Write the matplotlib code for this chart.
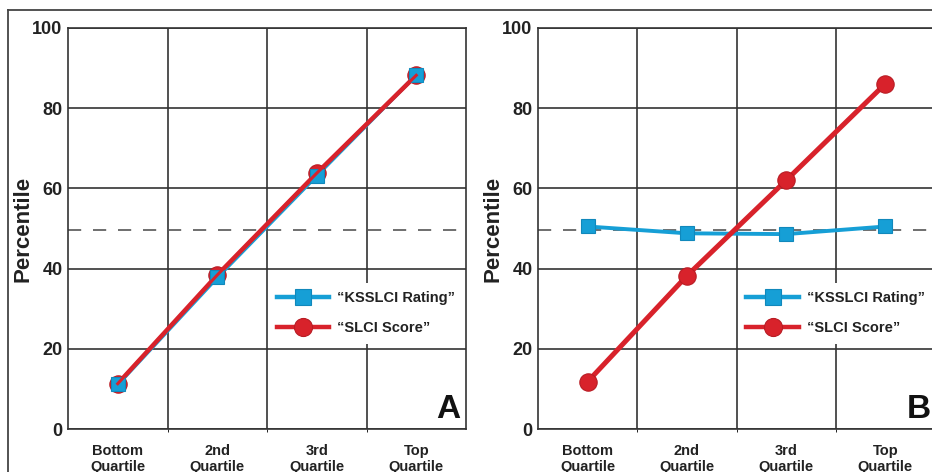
import matplotlib
matplotlib.use('Agg')
import matplotlib.pyplot as plt
from matplotlib.lines import Line2D

plt.rcParams['font.family'] = ['Liberation Sans', 'DejaVu Sans']
plt.rcParams['font.weight'] = 'bold'
plt.rcParams['lines.scale_dashes'] = False

# data
quartiles = ['Bottom\nQuartile', '2nd\nQuartile', '3rd\nQuartile', 'Top\nQuartile']
y_ticks = [0, 20, 40, 60, 80, 100]
median_line = 49.6

rating_a = [11.1, 37.8, 63.2, 88.3]
score_a = [11.3, 38.4, 63.8, 88.2]
rating_b = [50.5, 48.8, 48.6, 50.5]
score_b = [11.8, 38.2, 62.0, 86.1]

labels = ['\u201cKSSLCI Rating\u201d', '\u201cSLCI Score\u201d']
panel_letters = ['A', 'B']

blue = '#169fd6'
red = '#d8222b'
grid_col = '#333333'

fig = plt.figure(figsize=(9.32, 4.72), dpi=100)

# outer frame lines (top and left)
fig.add_artist(Line2D([8 / 932, 1.0], [1 - 10 / 472, 1 - 10 / 472], color='#444444', lw=1.3))
fig.add_artist(Line2D([8 / 932, 8 / 932], [0, 1 - 10 / 472], color='#444444', lw=1.3))

positions = [[68 / 932, 43 / 472, 398 / 932, 401 / 472],
             [538 / 932, 43 / 472, 397 / 932, 401 / 472]]
data = [(rating_a, score_a), (rating_b, score_b)]

for k, ax_pos in enumerate(positions):
    ax = fig.add_axes(ax_pos)
    rating, score = data[k]
    x = list(range(len(quartiles)))

    ax.set_xlim(-0.5, 3.5)
    ax.set_ylim(0, 100)
    ax.set_yticks(y_ticks)
    ax.set_xticks(x)
    ax.set_xticklabels(quartiles, fontsize=10.5, fontweight='bold', color='#222222',
                       linespacing=1.2)
    ax.set_yticklabels([str(v) for v in y_ticks], fontsize=13, fontweight='bold', color='#222222')
    ax.tick_params(axis='both', length=0)
    ax.tick_params(axis='x', pad=11)
    ax.tick_params(axis='y', pad=4)
    ax.set_xticks([0.5, 1.5, 2.5], minor=True)
    ax.grid(True, which='minor', axis='x', color=grid_col, lw=1.2)
    ax.grid(True, which='major', axis='y', color=grid_col, lw=1.2)
    ax.set_axisbelow(True)
    for s in ax.spines.values():
        s.set_color(grid_col)
        s.set_linewidth(1.2)

    ax.set_ylabel('Percentile', fontsize=16, fontweight='bold', color='#222222', labelpad=-1)

    ax.axhline(median_line, color='#555555', lw=1.2, dashes=(9.5, 8.5), zorder=2)

    ax.plot(x, rating, color=blue, lw=2.8, zorder=3, solid_capstyle='round')
    ax.plot(x, score, color=red, lw=3.2 if k == 0 else 3.6, marker='o', markersize=12.5,
            markerfacecolor=red, markeredgecolor='#b81c24', markeredgewidth=0.8, zorder=4)
    ax.plot(x, rating, color=blue, lw=0, marker='s', markersize=10.5,
            markerfacecolor=blue, markeredgecolor='#1188bb', markeredgewidth=0.8, zorder=5)
    if k == 0:
        ax.plot(x, score, color=red, lw=2.2, zorder=6)

    h1 = Line2D([], [], color=blue, lw=3.2, marker='s', markersize=12,
                markerfacecolor=blue, markeredgecolor='#1188bb', markeredgewidth=0.8)
    h2 = Line2D([], [], color=red, lw=3.2, marker='o', markersize=13,
                markerfacecolor=red, markeredgecolor='#b81c24', markeredgewidth=0.8)
    leg = ax.legend([h1, h2], labels, loc='upper left', bbox_to_anchor=(0.503, 0.365),
                    borderaxespad=0, frameon=True, facecolor='white', edgecolor='none',
                    framealpha=1, fancybox=False, borderpad=0.6, handlelength=3.6,
                    handletextpad=0.55, labelspacing=1.1,
                    prop={'size': 10.5, 'weight': 'bold'})
    for t in leg.get_texts():
        t.set_color('#222222')
    leg.set_zorder(7)

    ax.text(0.985 if k == 0 else 0.99, 0.027, panel_letters[k], transform=ax.transAxes,
            ha='right', va='baseline', fontsize=24, fontweight='bold', color='#111111', zorder=8)

fig.savefig('out.png', dpi=100)
